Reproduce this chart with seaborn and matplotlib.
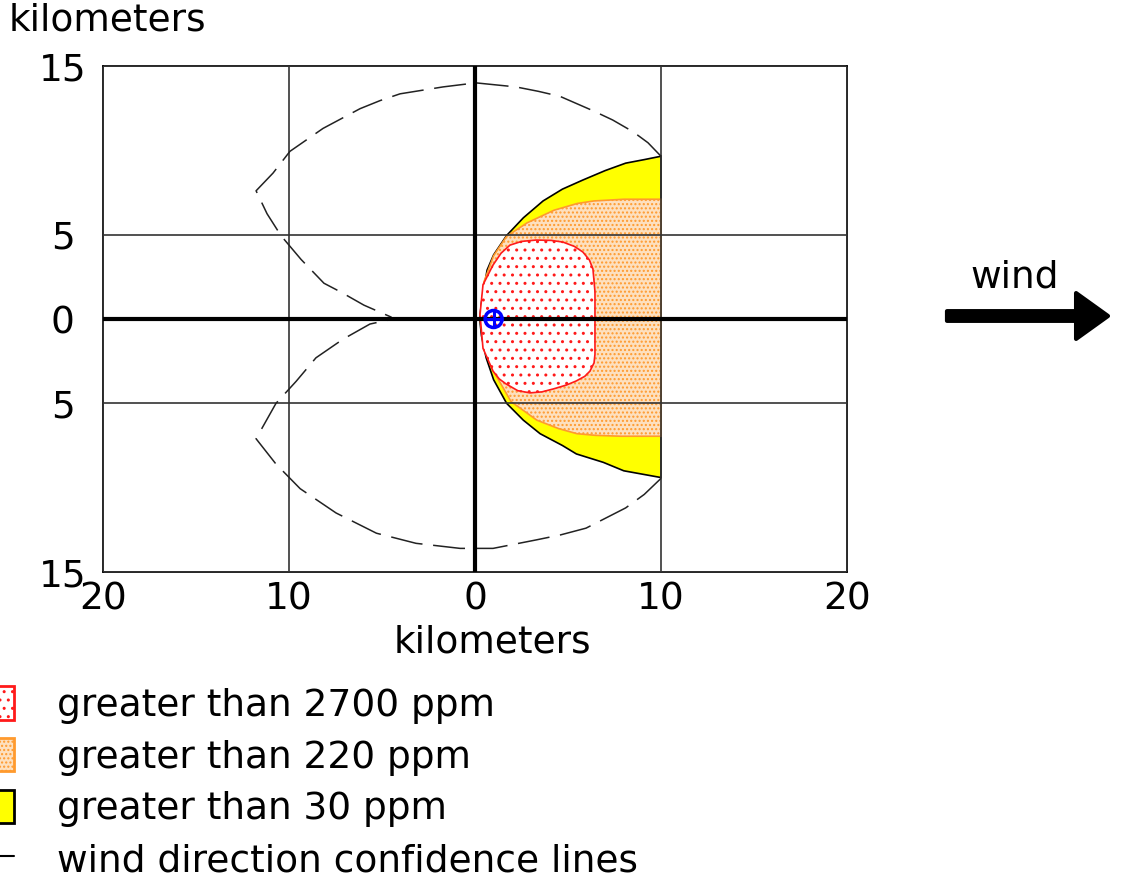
import numpy as np
import matplotlib
matplotlib.use('Agg')
import matplotlib.pyplot as plt
import seaborn as sns
from matplotlib.patches import Patch
from matplotlib.lines import Line2D

# threat zone footprint, distances in km, wind blowing to +x

# greater than 30 ppm (yellow)
yellow_x_up = [0.25, 0.35, 0.65, 1.0, 1.7, 2.6, 3.66, 4.7, 5.8, 7.0, 8.1, 9.1, 10.0]
yellow_y_up = [0.0, 1.0, 2.9, 3.8, 4.95, 6.0, 7.0, 7.7, 8.24, 8.8, 9.24, 9.45, 9.65]
yellow_x_lo = [0.25, 0.35, 0.6, 1.0, 1.7, 2.6, 3.5, 4.7, 5.45, 6.9, 8.0, 9.0, 10.0]
yellow_y_lo = [0.0, -1.0, -2.3, -3.6, -5.0, -6.0, -6.8, -7.5, -8.0, -8.5, -9.0, -9.2, -9.4]

# greater than 220 ppm (orange)
orange_x_up = [0.3, 0.48, 1.0, 1.7, 2.8, 4.25, 5.5, 6.4, 8.0, 10.0]
orange_y_up = [0.2, 2.2, 3.75, 4.9, 5.7, 6.45, 6.85, 7.0, 7.1, 7.1]
orange_x_lo = [0.3, 0.48, 1.0, 1.94, 3.33, 4.5, 5.48, 6.5, 7.85, 10.0]
orange_y_lo = [-0.2, -1.75, -3.1, -4.9, -6.0, -6.5, -6.8, -6.9, -6.95, -6.95]

# greater than 2700 ppm (red)
red_x_up = [0.27, 0.43, 0.97, 1.4, 1.88, 2.5, 3.28, 4.1, 4.73, 5.35, 5.8, 6.15, 6.34, 6.45]
red_y_up = [0.26, 2.03, 3.2, 3.9, 4.38, 4.6, 4.68, 4.66, 4.56, 4.3, 3.97, 3.5, 2.97, 1.62]
red_x_lo = [0.27, 0.43, 0.97, 1.3, 1.67, 2.3, 2.96, 3.6, 4.2, 4.9, 5.43, 5.9, 6.18, 6.4, 6.45]
red_y_lo = [0.26, -1.74, -3.09, -3.55, -3.85, -4.25, -4.38, -4.32, -4.15, -3.92, -3.68, -3.4, -3.09, -2.6, -2.09]

# wind direction confidence lines
conf_x_up = [10.0, 9.3, 8.5, 7.4, 6.34, 4.57, 3.4, 2.2, 0.05, -1.72, -4.03, -5.1, -6.18, -8.17,
             -9.95, -10.86, -11.77, -11.18, -10.43, -9.35, -8.12, -7.2, -5.97, -4.52, -4.4]
conf_y_up = [9.65, 10.45, 11.1, 11.8, 12.35, 13.2, 13.5, 13.76, 14.0, 13.76, 13.35, 12.95, 12.47, 11.3,
             9.94, 8.65, 7.6, 6.24, 4.94, 3.53, 2.12, 1.59, 0.82, 0.12, 0.0]
conf_x_lo = [10.0, 9.1, 8.1, 5.97, 4.6, 3.28, 0.97, -0.8, -3.17, -5.3, -7.47, -9.4, -10.7, -11.77,
             -10.7, -9.62, -8.55, -7.1, -5.65, -4.4]
conf_y_lo = [-9.45, -10.4, -11.2, -12.4, -12.8, -13.1, -13.6, -13.6, -13.3, -12.7, -11.5, -10.06, -8.6, -7.1,
             -5.0, -3.7, -2.3, -1.2, -0.3, 0.0]

source_x = [1.0]
source_y = [0.0]

x_ticks = [-20, -10, 0, 10, 20]
x_labels = ['20', '10', '0', '10', '20']
y_ticks = [15, 5, 0, -5, -15]
y_labels = ['15', '5', '0', '5', '15']

legend_labels = ['greater than 2700 ppm', 'greater than 220 ppm',
                 'greater than 30 ppm', 'wind direction confidence lines']

RED = '#ff1a1a'
ORANGE = '#ff9a2e'
ORANGE_FILL = '#fde0bf'
YELLOW = '#ffff00'
FS = 27

sns.set_theme(style='white')
plt.rcParams['font.family'] = ['DejaVu Sans']
plt.rcParams['text.color'] = 'black'
plt.rcParams['hatch.linewidth'] = 1.0

fig = plt.figure(figsize=(11.21, 8.8), dpi=100)
ax = fig.add_axes([103 / 1121, 1 - 572 / 880, 744 / 1121, 506 / 880])


def outline(xu, yu, xl, yl):
    return np.r_[xu, xl[::-1]], np.r_[yu, yl[::-1]]


px, py = outline(yellow_x_up, yellow_y_up, yellow_x_lo, yellow_y_lo)
ax.fill(px, py, facecolor=YELLOW, edgecolor='black', lw=1.2, zorder=1)
px, py = outline(orange_x_up, orange_y_up, orange_x_lo, orange_y_lo)
ax.fill(px, py, facecolor=ORANGE_FILL, edgecolor=ORANGE, hatch='....', lw=1.2, zorder=1.1)
px, py = outline(red_x_up, red_y_up, red_x_lo, red_y_lo)
ax.fill(px, py, facecolor='white', edgecolor=RED, hatch='..', lw=1.2, zorder=1.2)

# confidence lines
for cx, cy in [(conf_x_up, conf_y_up), (conf_x_lo, conf_y_lo)]:
    sns.lineplot(x=cx, y=cy, sort=False, estimator=None, ax=ax, color='#222222',
                 lw=1.1, linestyle=(0, (21, 7)), zorder=3)

# grid + main axes
ax.set_axisbelow(False)
ax.grid(True, color='#333333', lw=1.2)
ax.axhline(0, color='black', lw=3, zorder=4)
ax.axvline(0, color='black', lw=3, zorder=4)

# source location
sns.scatterplot(x=source_x, y=source_y, ax=ax, marker='o', s=150, facecolor='none',
                edgecolor='#0000ff', linewidth=2.5, zorder=6)
sns.scatterplot(x=source_x, y=source_y, ax=ax, marker='+', s=170, color='#0000ff',
                linewidth=2.2, zorder=6)

ax.set_xlim(-20, 20)
ax.set_ylim(-15, 15)
ax.set_xticks(x_ticks, x_labels)
ax.set_yticks(y_ticks, y_labels)
ax.tick_params(length=0, labelsize=FS, colors='black')
ax.tick_params(axis='x', pad=7)
ax.tick_params(axis='y', pad=29)
for lab in ax.get_yticklabels():
    lab.set_horizontalalignment('center')
for s in ax.spines.values():
    s.set_color('black')
    s.set_linewidth(1.2)

ax.set_xlabel('kilometers', fontsize=FS, color='black')
ax.xaxis.set_label_coords(0.524, -0.103)
ax.set_ylabel('kilometers', fontsize=FS, color='black', rotation=0, ha='center', va='center')
ax.yaxis.set_label_coords(0.006, 1.09)

# legend below the plot
handles = [
    Patch(facecolor='white', edgecolor=RED, hatch='..', lw=2),
    Patch(facecolor=ORANGE_FILL, edgecolor=ORANGE, hatch='....', lw=2),
    Patch(facecolor=YELLOW, edgecolor='black', lw=2),
    Line2D([], [], color='black', lw=1.5),
]
fig.legend(handles, legend_labels, loc='upper left', bbox_to_anchor=(-13 / 1121, 1 - 686 / 880),
           frameon=False, fontsize=FS, handlelength=0.72, handleheight=1.0,
           handletextpad=1.15, labelspacing=0.38, borderpad=0, borderaxespad=0,
           labelcolor='black')

# wind arrow
fig.text(1015 / 1121, 1 - 278 / 880, 'wind', fontsize=FS, ha='center', va='center')
ax.annotate('', xy=(1108, 880 - 316), xycoords='figure pixels',
            xytext=(947, 880 - 316), textcoords='figure pixels',
            arrowprops=dict(facecolor='black', edgecolor='black', width=7,
                            headwidth=33, headlength=23, joinstyle='round',
                            capstyle='round', lw=3))

fig.savefig('out.png', dpi=100)
